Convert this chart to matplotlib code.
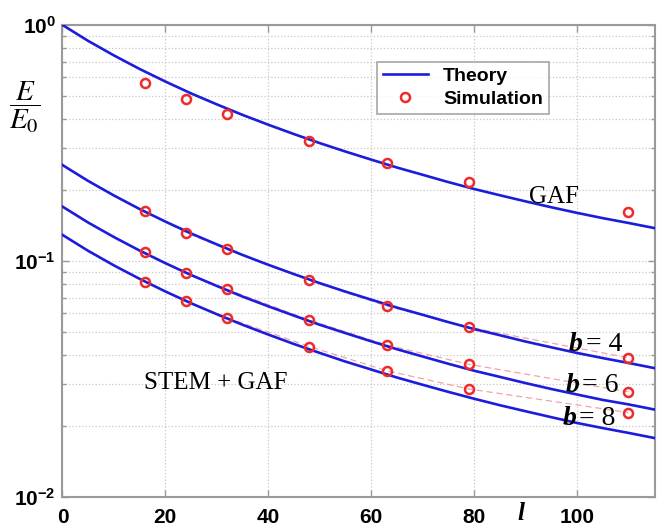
import matplotlib
matplotlib.use("Agg")
import matplotlib.pyplot as plt
from matplotlib.ticker import FixedLocator, LogLocator, NullFormatter

l_theory = [0, 5, 10, 15, 20, 25, 30, 35, 40, 45, 50, 55, 60, 65, 70, 75,
            80, 85, 90, 95, 100, 105, 110, 115]
gaf_theory = [1.000, 0.856, 0.743, 0.651, 0.576, 0.513, 0.461, 0.416, 0.378,
              0.345, 0.316, 0.291, 0.269, 0.249, 0.232, 0.216, 0.202, 0.190,
              0.179, 0.169, 0.160, 0.152, 0.145, 0.138]
b4_theory = [0.255, 0.2183, 0.1895, 0.1660, 0.1469, 0.1308, 0.1176, 0.1061,
             0.0964, 0.0880, 0.0806, 0.0742, 0.0686, 0.0635, 0.0592, 0.0551,
             0.0515, 0.0485, 0.0456, 0.0431, 0.0408, 0.0388, 0.0370, 0.0352]
b6_theory = [0.170, 0.1455, 0.1263, 0.1107, 0.0979, 0.0872, 0.0784, 0.0707,
             0.0643, 0.0587, 0.0537, 0.0495, 0.0457, 0.0423, 0.0394, 0.0367,
             0.0343, 0.0323, 0.0304, 0.0287, 0.0272, 0.0258, 0.0247, 0.0235]
b8_theory = [0.129, 0.1104, 0.0958, 0.0840, 0.0743, 0.0662, 0.0595, 0.0537,
             0.0488, 0.0445, 0.0408, 0.0375, 0.0347, 0.0321, 0.0299, 0.0279,
             0.0261, 0.0245, 0.0231, 0.0218, 0.0206, 0.0196, 0.0187, 0.0178]

# simulation points
l_sim = [16, 24, 32, 48, 63, 79, 110]
gaf_sim = [0.566, 0.486, 0.420, 0.322, 0.259, 0.216, 0.161]
b4_sim = [0.163, 0.132, 0.112, 0.0828, 0.0645, 0.0524, 0.0389]
b6_sim = [0.109, 0.089, 0.0759, 0.0562, 0.0441, 0.0365, 0.0279]
b8_sim = [0.0817, 0.0677, 0.0575, 0.0434, 0.0343, 0.0287, 0.0228]

x_ticks = [0, 20, 40, 60, 80, 100]
y_ticks = [0.01, 0.1, 1]
y_tick_labels = [r'$\mathbf{10^{-2}}$', r'$\mathbf{10^{-1}}$', r'$\mathbf{10^{0}}$']

BLUE = '#1c1cdc'
RED = '#ee2a2a'
GRAY = '#9a9a9a'

plt.rcParams['mathtext.fontset'] = 'custom'
plt.rcParams['mathtext.bf'] = 'Liberation Sans:bold'
plt.rcParams['mathtext.rm'] = 'Liberation Sans:bold'

fig = plt.figure(figsize=(6.62, 5.26), dpi=100)
ax = fig.add_axes([0.0944, 0.0551, 0.895, 0.8974])

# theory lines
ax.plot(l_theory, gaf_theory, color=BLUE, lw=1.9, label='Theory', zorder=3)
for curve in (b4_theory, b6_theory, b8_theory):
    ax.plot(l_theory, curve, color=BLUE, lw=1.9, zorder=3)

# simulation: dashed connectors for STEM + GAF
for sim in (b4_sim, b6_sim, b8_sim):
    ax.plot(l_sim, sim, color='#f2a4a4', lw=0.9, ls=(0, (5, 3)), zorder=2)
ax.plot(l_sim, gaf_sim, 'o', ms=6.5, mfc='none', mec=RED, mew=1.8,
        label='Simulation', zorder=4)
for sim in (b4_sim, b6_sim, b8_sim):
    ax.plot(l_sim, sim, 'o', ms=6.5, mfc='none', mec=RED, mew=1.8, zorder=4)

ax.set_yscale('log')
ax.set_xlim(0, 115.2)
ax.set_ylim(0.01, 1)

ax.xaxis.set_major_locator(FixedLocator(x_ticks))
ax.set_xticklabels([str(t) for t in x_ticks], fontfamily='Liberation Sans',
                   fontweight='bold', fontsize=15)
ax.yaxis.set_major_locator(FixedLocator(y_ticks))
ax.set_yticklabels(y_tick_labels, fontsize=15)
ax.yaxis.set_minor_locator(LogLocator(base=10, subs=range(2, 10)))
ax.yaxis.set_minor_formatter(NullFormatter())

ax.tick_params(which='both', direction='in', top=True, right=True,
               color=GRAY, width=1)
ax.tick_params(which='major', length=5)
ax.tick_params(which='minor', length=3)
ax.tick_params(axis='x', pad=8)
ax.tick_params(axis='y', pad=5)
for sp in ax.spines.values():
    sp.set_color(GRAY)
    sp.set_linewidth(1.5)

ax.grid(which='major', color='#c8c8c8', ls=':', lw=0.9)
ax.grid(which='minor', axis='y', color='#c8c8c8', ls=':', lw=0.9)
ax.set_axisbelow(True)

leg = ax.legend(loc='upper left', bbox_to_anchor=(0.531, 0.922),
                borderaxespad=0,
                prop={'family': 'Liberation Sans', 'weight': 'bold', 'size': 14},
                frameon=True, fancybox=False, edgecolor=GRAY,
                handlelength=2.3, handletextpad=0.8, borderpad=0.3,
                labelspacing=0.25)
leg.get_frame().set_linewidth(1.3)

serif = 'Liberation Serif'
ax.text(95.5, 0.187, 'GAF', fontfamily=serif, fontsize=18, ha='center',
        va='center')
ax.text(29.8, 0.0304, 'STEM + GAF', fontfamily=serif, fontsize=18,
        ha='center', va='center')

for x_b, y_lab, val in ((101.2, 0.0441, '4'), (100.6, 0.0298, '6'),
                        (100.0, 0.0216, '8')):
    ax.text(x_b, y_lab, 'b', fontfamily=serif, fontweight='bold',
            fontstyle='italic', fontsize=20, ha='right', va='center')
    ax.text(x_b + 0.5, y_lab, '= ' + val, fontfamily=serif, fontsize=20,
            ha='left', va='center')

fig.text(0.038, 0.795, r'$\dfrac{E}{E_0}$', fontsize=21, ha='center',
         va='center', math_fontfamily='stix')
fig.text(0.787, 0.002, 'l', fontfamily=serif, fontweight='bold',
         fontstyle='italic', fontsize=18, ha='center', va='bottom')

fig.savefig('out.png', dpi=100)
